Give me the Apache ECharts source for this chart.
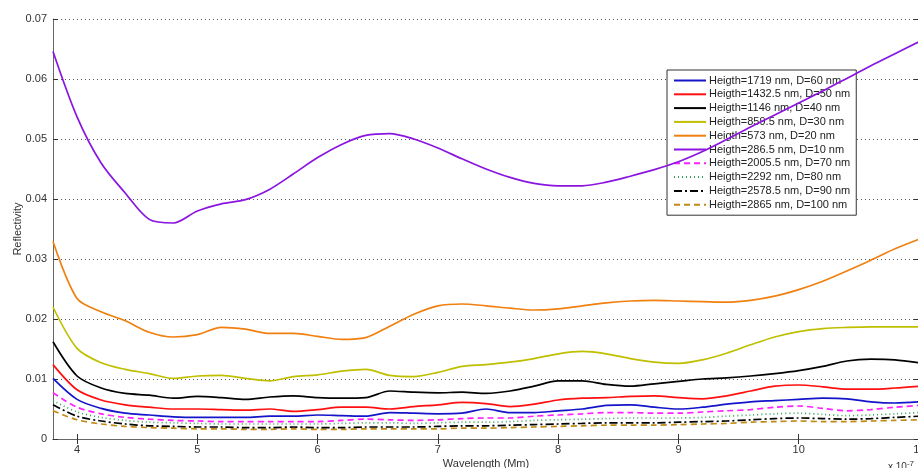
<!DOCTYPE html>
<html>
<head>
<meta charset="utf-8">
<script src="https://cdn.jsdelivr.net/npm/echarts@6/dist/echarts.min.js"></script>
<style>
  html, body { margin: 0; padding: 0; background: #fff; }
  #chart { width: 918px; height: 468px; }
</style>
</head>
<body>
<div id="chart"></div>
<script>
// Wavelength samples (×10^-7 m)
const wavelengths = [3.8, 4.0, 4.2, 4.4, 4.6, 4.8, 5.0, 5.2, 5.4, 5.6, 5.8, 6.0, 6.2, 6.4, 6.6, 6.8, 7.0, 7.2, 7.4,
  7.6, 7.8, 8.0, 8.2, 8.4, 8.6, 8.8, 9.0, 9.2, 9.4, 9.6, 9.8, 10.0, 10.2, 10.4, 10.6, 10.8, 11.0];

const xTicks = [4, 5, 6, 7, 8, 9, 10, 11];
const yTicks = [0, 0.01, 0.02, 0.03, 0.04, 0.05, 0.06, 0.07];

// Reflectivity per nanowire height / diameter
const r1719 = [0.0101, 0.0066, 0.0051, 0.0043, 0.0040, 0.0037, 0.0036, 0.0036, 0.0036, 0.0038, 0.0038, 0.0040, 0.0039,
  0.0038, 0.0044, 0.0043, 0.0042, 0.0043, 0.0050, 0.0044, 0.0044, 0.0047, 0.0050, 0.0056, 0.0057, 0.0053, 0.0050,
  0.0053, 0.0058, 0.0062, 0.0064, 0.0066, 0.0068, 0.0067, 0.0062, 0.0060, 0.0062];
const r1432 = [0.0124, 0.0082, 0.0065, 0.0057, 0.0053, 0.0050, 0.0050, 0.0049, 0.0048, 0.0050, 0.0046, 0.0049, 0.0053,
  0.0053, 0.0050, 0.0054, 0.0057, 0.0061, 0.0059, 0.0054, 0.0058, 0.0065, 0.0068, 0.0069, 0.0071, 0.0072, 0.0069,
  0.0067, 0.0072, 0.0080, 0.0088, 0.0090, 0.0087, 0.0083, 0.0083, 0.0085, 0.0088];
const r1146 = [0.0162, 0.0105, 0.0085, 0.0076, 0.0073, 0.0068, 0.0071, 0.0069, 0.0066, 0.0070, 0.0072, 0.0069, 0.0068,
  0.0069, 0.0080, 0.0078, 0.0077, 0.0078, 0.0076, 0.0080, 0.0088, 0.0097, 0.0097, 0.0091, 0.0088, 0.0092, 0.0096,
  0.0100, 0.0102, 0.0105, 0.0109, 0.0114, 0.0121, 0.0130, 0.0133, 0.0132, 0.0127];
const r859 = [0.0220, 0.0151, 0.0127, 0.0116, 0.0109, 0.0101, 0.0105, 0.0106, 0.0101, 0.0097, 0.0104, 0.0107, 0.0113,
  0.0116, 0.0106, 0.0104, 0.0111, 0.0121, 0.0124, 0.0128, 0.0134, 0.0142, 0.0146, 0.0142, 0.0134, 0.0128, 0.0126,
  0.0132, 0.0143, 0.0157, 0.0170, 0.0179, 0.0184, 0.0186, 0.0187, 0.0187, 0.0187];
const r573 = [0.0329, 0.0234, 0.0212, 0.0197, 0.0178, 0.0170, 0.0174, 0.0186, 0.0183, 0.0176, 0.0176, 0.0171, 0.0166,
  0.0169, 0.0188, 0.0208, 0.0222, 0.0225, 0.0222, 0.0218, 0.0215, 0.0217, 0.0222, 0.0227, 0.0230, 0.0231, 0.0230,
  0.0229, 0.0228, 0.0231, 0.0238, 0.0249, 0.0263, 0.0280, 0.0298, 0.0317, 0.0333];
const r286 = [0.0646, 0.0537, 0.0460, 0.0410, 0.0366, 0.0360, 0.0380, 0.0392, 0.0399, 0.0416, 0.0442, 0.0469, 0.0491,
  0.0506, 0.0509, 0.0500, 0.0485, 0.0467, 0.0450, 0.0436, 0.0426, 0.0422, 0.0422, 0.0428, 0.0438, 0.0449, 0.0462,
  0.0479, 0.0499, 0.0520, 0.0540, 0.0560, 0.0580, 0.0601, 0.0622, 0.0642, 0.0662];
const r2005 = [0.0077, 0.0053, 0.0042, 0.0036, 0.0033, 0.0031, 0.0030, 0.0029, 0.0029, 0.0029, 0.0029, 0.0029, 0.0031,
  0.0033, 0.0032, 0.0031, 0.0032, 0.0034, 0.0035, 0.0035, 0.0038, 0.0040, 0.0042, 0.0044, 0.0044, 0.0043, 0.0043,
  0.0045, 0.0047, 0.0049, 0.0053, 0.0055, 0.0051, 0.0047, 0.0049, 0.0053, 0.0056];
const r2292 = [0.0064, 0.0045, 0.0036, 0.0031, 0.0028, 0.0027, 0.0026, 0.0025, 0.0025, 0.0025, 0.0025, 0.0025, 0.0026,
  0.0027, 0.0027, 0.0026, 0.0027, 0.0028, 0.0028, 0.0029, 0.0031, 0.0032, 0.0033, 0.0034, 0.0035, 0.0035, 0.0035,
  0.0036, 0.0038, 0.0040, 0.0042, 0.0043, 0.0041, 0.0039, 0.0040, 0.0042, 0.0044];
const r2578 = [0.0057, 0.0038, 0.0030, 0.0025, 0.0022, 0.0021, 0.0020, 0.0020, 0.0019, 0.0019, 0.0020, 0.0019, 0.0019,
  0.0020, 0.0020, 0.0020, 0.0021, 0.0022, 0.0022, 0.0023, 0.0024, 0.0025, 0.0026, 0.0027, 0.0027, 0.0027, 0.0028,
  0.0029, 0.0030, 0.0032, 0.0034, 0.0035, 0.0034, 0.0033, 0.0034, 0.0036, 0.0038];
const r2865 = [0.0047, 0.0032, 0.0025, 0.0021, 0.0019, 0.0018, 0.0017, 0.0017, 0.0016, 0.0016, 0.0017, 0.0016, 0.0016,
  0.0017, 0.0017, 0.0017, 0.0017, 0.0018, 0.0018, 0.0019, 0.0020, 0.0021, 0.0022, 0.0023, 0.0023, 0.0023, 0.0024,
  0.0025, 0.0026, 0.0028, 0.0029, 0.0030, 0.0029, 0.0029, 0.0030, 0.0031, 0.0032];

const seriesNames = [
  'Heigth=1719 nm, D=60 nm',
  'Heigth=1432.5 nm, D=50 nm',
  'Heigth=1146 nm, D=40 nm',
  'Heigth=859.5 nm, D=30 nm',
  'Heigth=573 nm, D=20 nm',
  'Heigth=286.5 nm, D=10 nm',
  'Heigth=2005.5 nm, D=70 nm',
  'Heigth=2292 nm, D=80 nm',
  'Heigth=2578.5 nm, D=90 nm',
  'Heigth=2865 nm, D=100 nm'
];
const seriesValues = [r1719, r1432, r1146, r859, r573, r286, r2005, r2292, r2578, r2865];
const seriesColors = ['#1414c8', '#ff1010', '#000000', '#bfbf00', '#f08010', '#8a14e0', '#ff20ff', '#3aa05a', '#000000', '#c08a14'];
const seriesDash = ['solid', 'solid', 'solid', 'solid', 'solid', 'solid', [6, 4], [1, 3], [8, 3, 2, 3], [6, 4]];

const series = seriesNames.map((name, i) => ({
  name: name,
  type: 'line',
  data: wavelengths.map((w, j) => [w, seriesValues[i][j]]),
  showSymbol: false,
  symbol: 'none',
  smooth: 0.3,
  color: seriesColors[i],
  lineStyle: { width: 1.7, color: seriesColors[i], type: seriesDash[i] },
  z: 10 - i
}));

const axisColor = '#666';
const fontFamily = '"Liberation Sans", Arial, sans-serif';

const chart = echarts.init(document.getElementById('chart'), null, { renderer: 'canvas' });
chart.setOption({
  backgroundColor: '#ffffff',
  animation: false,
  textStyle: { fontFamily: fontFamily },
  grid: { left: 53, right: -1, top: 19, bottom: 29, containLabel: false, outerBoundsMode: 'none' },
  legend: {
    orient: 'vertical',
    left: 667,
    top: 70,
    width: 188,
    padding: [5, 6, 5, 6],
    itemWidth: 32,
    itemHeight: 12,
    itemGap: 2.8,
    backgroundColor: '#ffffff',
    borderColor: '#333',
    borderWidth: 1,
    borderRadius: 0,
    itemStyle: { opacity: 0 },
    textStyle: { fontSize: 11, color: '#222', fontFamily: fontFamily, padding: [0, 0, 0, -2] },
    data: seriesNames
  },
  xAxis: [{
    type: 'value',
    min: 3.8,
    max: 11,
    name: 'Wavelength (Mm)',
    nameLocation: 'middle',
    nameGap: 19,
    nameMoveOverlap: false,
    nameTextStyle: { fontSize: 11, color: '#333' },
    axisLine: { show: true, lineStyle: { color: axisColor } },
    axisTick: { show: true, inside: true, length: 5, lineStyle: { color: '#333' }, customValues: xTicks },
    axisLabel: { fontSize: 11, color: '#333', margin: 5, customValues: xTicks, formatter: v => String(v) },
    splitLine: { show: false }
  }, {
    type: 'value',
    position: 'top',
    min: 3.8,
    max: 11,
    axisLine: { show: true, lineStyle: { color: axisColor } },
    axisTick: { show: true, inside: true, length: 5, lineStyle: { color: '#333' }, customValues: xTicks },
    axisLabel: { show: false },
    splitLine: { show: false }
  }],
  yAxis: [{
    type: 'value',
    min: 0,
    max: 0.07,
    interval: 0.01,
    name: 'Reflectivity',
    nameLocation: 'middle',
    nameGap: 30,
    nameMoveOverlap: false,
    nameTextStyle: { fontSize: 11, color: '#333' },
    axisLine: { show: true, lineStyle: { color: axisColor } },
    axisTick: { show: true, inside: true, length: 5, lineStyle: { color: '#333' } },
    axisLabel: {
      fontSize: 11, color: '#333', margin: 6,
      formatter: v => {
        const t = yTicks.find(k => Math.abs(k - v) < 1e-9);
        return t === 0 ? '0' : (t !== undefined ? t.toFixed(2) : '');
      }
    },
    splitLine: { show: true, lineStyle: { color: '#555', type: [1, 3], width: 1 } }
  }, {
    type: 'value',
    position: 'right',
    min: 0,
    max: 0.07,
    interval: 0.01,
    axisLine: { show: true, lineStyle: { color: axisColor } },
    axisTick: { show: true, inside: true, length: 5, lineStyle: { color: '#333' } },
    axisLabel: { show: false },
    splitLine: { show: false }
  }],
  graphic: [{
    type: 'text',
    left: 888,
    top: 460,
    style: {
      text: 'x 10{s|-7}',
      fontSize: 10,
      fill: '#333',
      fontFamily: fontFamily,
      rich: { s: { fontSize: 8, fill: '#333', verticalAlign: 'top', padding: [0, 0, 6, 0] } }
    }
  }],
  series: series
});
</script>
</body>
</html>
